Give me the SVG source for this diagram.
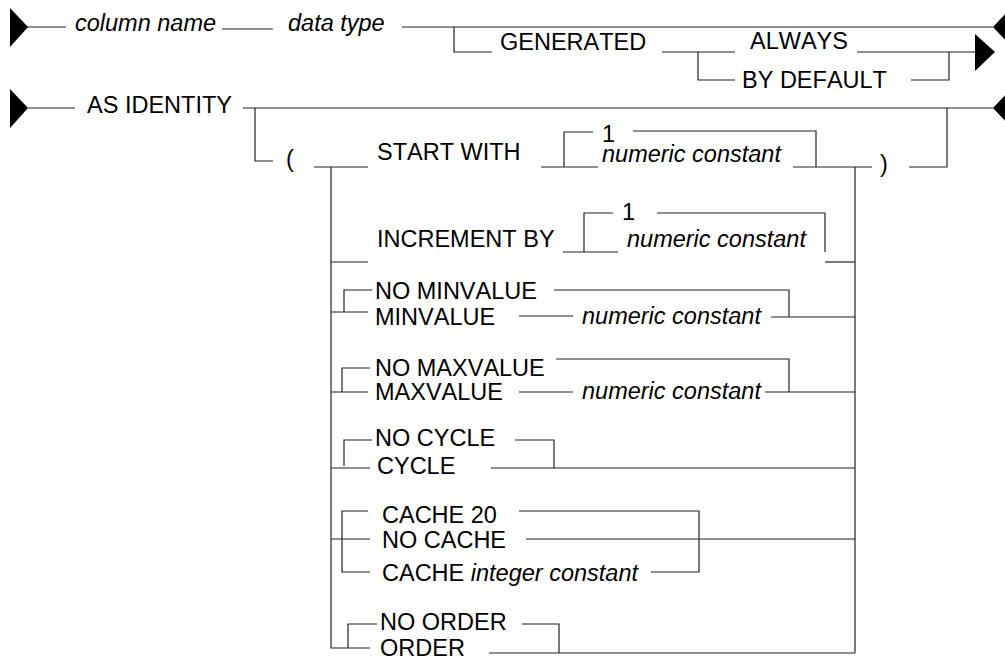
<svg xmlns="http://www.w3.org/2000/svg" width="1005" height="658" viewBox="0 0 1005 658">
<style>
  .t { font-family: "Liberation Sans", Arial, sans-serif; font-size: 23.5px; fill: #000; font-kerning: none; }
  .i { font-style: italic; }
  .c { fill: none; stroke: #222; stroke-width: 1.2; }
  .a { fill: #000; stroke: none; }
</style>
<rect width="1005" height="658" fill="#fff"/>
<g id="connectors" class="c">
  <path d="M27 27 H66"/>
  <path d="M222 29 H273"/>
  <path d="M402 27 H993"/>
  <path d="M454 27 V52 H492"/>
  <path d="M662 52 H735"/>
  <path d="M698 52 V80 H735"/>
  <path d="M857 52 H975"/>
  <path d="M911 80 H949 V52"/>
  <path d="M28 108 H75"/>
  <path d="M243 108 H993"/>
  <path d="M255 108 V161 H273"/>
  <path d="M314 167 H368"/>
  <path d="M331 167 V648 H370"/>
  <path d="M541 167 H598"/>
  <path d="M564 167 V132 H593"/>
  <path d="M633 131 H816 V167"/>
  <path d="M793 167 H872"/>
  <path d="M855 167 V653"/>
  <path d="M909 167 H947 V108"/>
  <path d="M331 262 H368"/>
  <path d="M563 252 H618"/>
  <path d="M584 252 V213 H613"/>
  <path d="M657 213 H825 V252"/>
  <path d="M825 262 H855"/>
  <path d="M344 312 V290 H372"/>
  <path d="M331 312 H368"/>
  <path d="M554 290 H789 V317"/>
  <path d="M519 316 H573"/>
  <path d="M771 317 H855"/>
  <path d="M342 392 V368 H370"/>
  <path d="M331 392 H368"/>
  <path d="M556 359 H789 V392"/>
  <path d="M519 392 H573"/>
  <path d="M765 392 H855"/>
  <path d="M344 466 V440 H372"/>
  <path d="M331 468 H370"/>
  <path d="M515 440 H554 V468"/>
  <path d="M491 468 H855"/>
  <path d="M368 511 H342 V572 H370"/>
  <path d="M331 539 H370"/>
  <path d="M519 511 H699 V572 H651"/>
  <path d="M526 539 H855"/>
  <path d="M348 648 V624 H377"/>
  <path d="M522 624 H559 V653"/>
  <path d="M489 653 H855"/>
</g>
<g id="arrows" class="a">
  <polygon points="10,8 28,27 10,47"/>
  <polygon points="993,27 1011,8 1011,46"/>
  <polygon points="975,34 995,52 975,71"/>
  <polygon points="10,89 28,108 10,128"/>
  <polygon points="993,108 1011,89 1011,127"/>
</g>
<g id="column-name"><text class="t i" x="75" y="31">column name</text></g>
<g id="data-type"><text class="t i" x="288" y="31">data type</text></g>
<g id="generated"><text class="t" x="500" y="50">GENERATED</text></g>
<g id="always"><text class="t" x="750" y="49">ALWAYS</text></g>
<g id="by-default"><text class="t" x="742" y="88">BY DEFAULT</text></g>
<g id="as-identity"><text class="t" x="87" y="113">AS IDENTITY</text></g>
<g id="lparen"><text class="t" x="286" y="167">(</text></g>
<g id="start-with"><text class="t" x="377" y="160">START WITH</text></g>
<g id="start-1"><text class="t" x="602" y="142">1</text></g>
<g id="start-num"><text class="t i" x="602" y="162">numeric constant</text></g>
<g id="rparen"><text class="t" x="880" y="172">)</text></g>
<g id="increment-by"><text class="t" x="377" y="247">INCREMENT BY</text></g>
<g id="inc-1"><text class="t" x="622" y="220">1</text></g>
<g id="inc-num"><text class="t i" x="627" y="247">numeric constant</text></g>
<g id="no-minvalue"><text class="t" x="375" y="299">NO MINVALUE</text></g>
<g id="minvalue"><text class="t" x="375" y="325">MINVALUE</text></g>
<g id="min-num"><text class="t i" x="582" y="324">numeric constant</text></g>
<g id="no-maxvalue"><text class="t" x="375" y="376">NO MAXVALUE</text></g>
<g id="maxvalue"><text class="t" x="375" y="400">MAXVALUE</text></g>
<g id="max-num"><text class="t i" x="582" y="399">numeric constant</text></g>
<g id="no-cycle"><text class="t" x="375" y="446">NO CYCLE</text></g>
<g id="cycle"><text class="t" x="377" y="474">CYCLE</text></g>
<g id="cache-20"><text class="t" x="382" y="523">CACHE 20</text></g>
<g id="no-cache"><text class="t" x="382" y="548">NO CACHE</text></g>
<g id="cache-int"><text class="t" x="382" y="581">CACHE <tspan class="i">integer constant</tspan></text></g>
<g id="no-order"><text class="t" x="380" y="630">NO ORDER</text></g>
<g id="order"><text class="t" x="380" y="656">ORDER</text></g>
</svg>
